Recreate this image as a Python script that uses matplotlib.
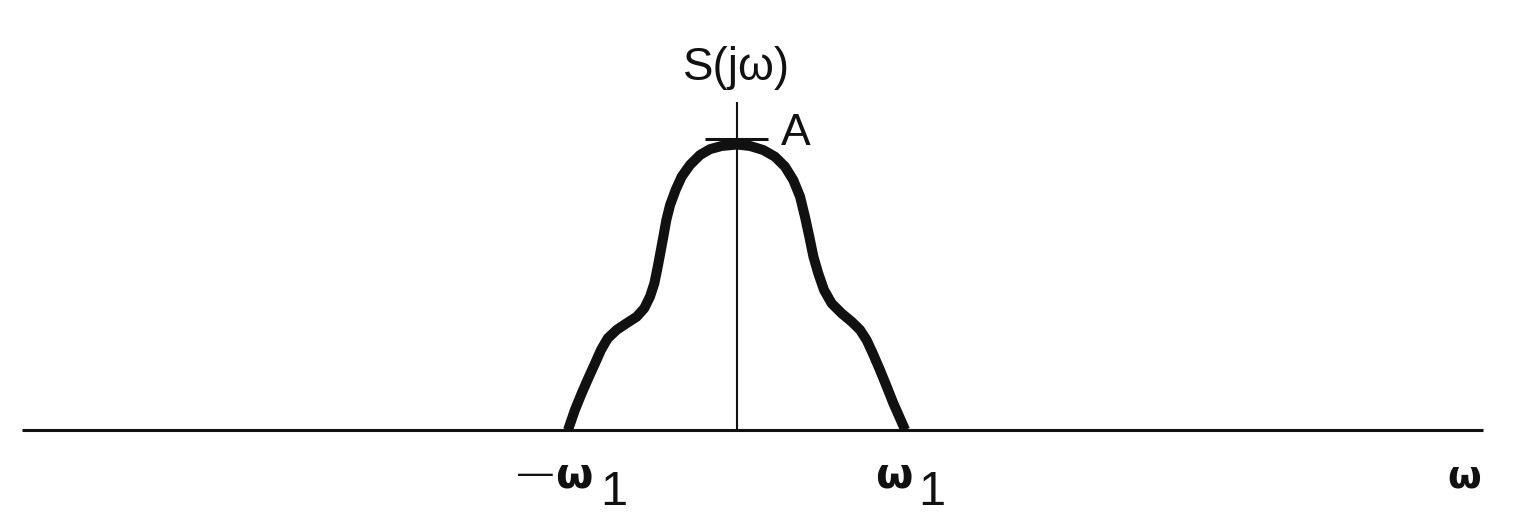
import matplotlib
matplotlib.use("Agg")
import matplotlib.pyplot as plt

# Spectrum S(jw), w in units of w1, S in units of A
omega = [-1.00, -0.959, -0.919, -0.880, -0.840, -0.805, -0.765, -0.712, -0.653,
         -0.594, -0.549, -0.515, -0.489, -0.469, -0.454, -0.436, -0.418, -0.396,
         -0.363, -0.327, -0.278, -0.219, -0.160, -0.091, 0.0,
         0.077, 0.156, 0.225, 0.284, 0.333, 0.373, 0.402, 0.428, 0.452, 0.481,
         0.515, 0.560, 0.619, 0.679, 0.728, 0.767, 0.803, 0.846, 0.886, 0.925,
         0.995]
S = [0.0, 0.069, 0.126, 0.178, 0.229, 0.275, 0.315, 0.344, 0.367,
     0.389, 0.418, 0.458, 0.504, 0.561, 0.607, 0.664, 0.722, 0.773,
     0.825, 0.871, 0.911, 0.945, 0.965, 0.976, 0.981,
     0.976, 0.962, 0.939, 0.905, 0.859, 0.802, 0.733, 0.664, 0.596, 0.538,
     0.481, 0.435, 0.401, 0.372, 0.344, 0.309, 0.264, 0.206, 0.149, 0.092,
     0.0]
A_level = 1.0

# pixel -> data helpers for layout
CX, SX = 737.0, 169.0
BY, SY = 430.0, 291.0
def X(px):
    return (px - CX) / SX
def Y(py):
    return (BY - py) / SY

fig = plt.figure(figsize=(15.2, 5.2), dpi=100)
ax = fig.add_axes([0, 0, 1, 1])
ax.set_xlim(X(0), X(1520))
ax.set_ylim(Y(520), Y(0))
ax.axis("off")

ink = "#111111"
# axes
ax.plot([X(22), X(1483)], [0, 0], color=ink, lw=2.2, solid_capstyle="butt")
ax.plot([0, 0], [0, Y(102)], color=ink, lw=1.5, solid_capstyle="butt")
# tick at A
ax.plot([-0.19, 0.185], [A_level, A_level], color=ink, lw=2.2, solid_capstyle="butt")
# curve
ax.plot(omega, S, color=ink, lw=7.2, solid_joinstyle="round", solid_capstyle="butt")

fs = "Liberation Sans"
ax.text(0, Y(68), "S(jω)", ha="center", va="center", fontsize=33, family=fs, color=ink)
ax.text(X(781), Y(145), "A", ha="left", va="baseline", fontsize=32, family=fs, color=ink)

# -w1 label
ax.text(X(535), Y(474), "—", ha="center", va="center", fontsize=25, family=fs, color=ink)
ax.text(X(555), Y(487), "ω", ha="left", va="baseline", fontsize=31, family="DejaVu Sans",
        fontweight="bold", color=ink)
ax.text(X(600), Y(505), "1", ha="left", va="baseline", fontsize=35, family=fs, color=ink)
# w1 label
ax.text(X(875), Y(487), "ω", ha="left", va="baseline", fontsize=31, family="DejaVu Sans",
        fontweight="bold", color=ink)
ax.text(X(918), Y(505), "1", ha="left", va="baseline", fontsize=35, family=fs, color=ink)
# axis label
ax.text(X(1447), Y(488), "ω", ha="left", va="baseline", fontsize=28, family="DejaVu Sans",
        fontweight="bold", color=ink)

fig.savefig("out.png", dpi=100, facecolor="white")
